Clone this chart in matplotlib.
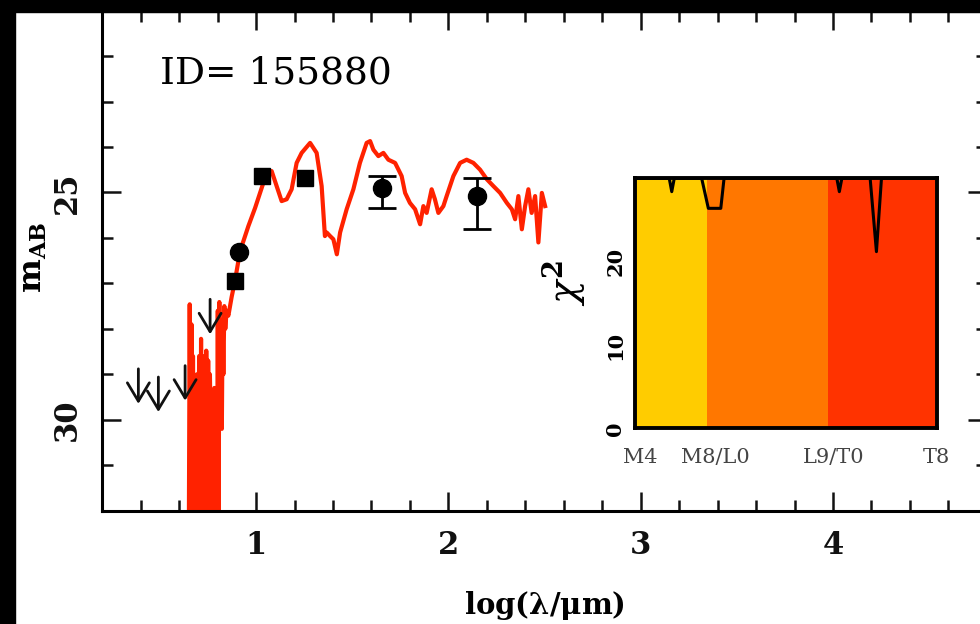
import numpy as np
import matplotlib
matplotlib.use('Agg')
from matplotlib import pyplot as plt
from matplotlib.patches import Rectangle

plt.rcParams['font.family'] = ['DejaVu Serif']
plt.rcParams['mathtext.fontset'] = 'dejavuserif'

# photometry: squares and circles (log lambda, mAB)
sq_x = [0.89, 1.03, 1.255]
sq_y = [26.95, 24.64, 24.68]
circ_x = [0.911]
circ_y = [26.32]
err_x = [1.653, 2.147]
err_y = [24.90, 25.08]
err_up = [0.27, 0.40]
err_dn = [0.44, 0.715]

# upper limits
lim_x = [0.388, 0.492, 0.631, 0.761]
lim_y = [28.88, 29.06, 28.81, 27.35]

# model spectrum
spec_x = [0.650, 0.655, 0.660, 0.664, 0.668, 0.672, 0.677, 0.682, 0.687, 0.692,
          0.698, 0.704, 0.709, 0.714, 0.718, 0.722, 0.727, 0.732, 0.737, 0.741,
          0.746, 0.751, 0.756, 0.760, 0.765, 0.770, 0.773, 0.778, 0.783, 0.788,
          0.792, 0.797, 0.801, 0.805, 0.809, 0.813, 0.818, 0.822, 0.826, 0.830,
          0.835, 0.840, 0.847, 0.856, 0.873, 0.89, 0.917, 0.96, 0.995, 1.055,
          1.081, 1.107, 1.133, 1.159, 1.185, 1.211, 1.237, 1.281, 1.315, 1.341,
          1.358, 1.367, 1.385, 1.402, 1.42, 1.437, 1.471, 1.506, 1.54, 1.575,
          1.593, 1.61, 1.636, 1.662, 1.688, 1.723, 1.757, 1.775, 1.8, 1.827,
          1.853, 1.87, 1.887, 1.913, 1.93, 1.948, 1.974, 1.991, 2.026, 2.061,
          2.095, 2.13, 2.165, 2.2, 2.234, 2.269, 2.304, 2.33, 2.347, 2.364,
          2.382, 2.399, 2.416, 2.433, 2.451, 2.468, 2.486, 2.503]
spec_y = [33, 27.46, 33, 27.9, 33, 28.6, 33, 29.1, 33, 29.0,
          33, 28.6, 33, 28.22, 33, 28.6, 33, 28.7, 33, 28.48,
          33, 28.7, 33, 29.0, 30.5, 33, 30.2, 33, 29.3, 33,
          30.0, 33, 27.6, 33, 27.41, 30.0, 28.0, 30.2, 27.8, 29.0,
          27.5, 28.0, 27.6, 27.71, 27.3, 26.95, 26.29, 25.74, 25.34, 24.57,
          24.53, 24.86, 25.19, 25.15, 24.93, 24.35, 24.13, 23.91, 24.13, 24.86,
          25.96, 25.88, 25.96, 26.03, 26.36, 25.88, 25.37, 24.93, 24.35, 23.91,
          23.87, 24.06, 24.2, 24.13, 24.28, 24.35, 24.64, 25.01, 25.23, 25.37,
          25.70, 25.3, 25.45, 24.93, 25.15, 25.45, 25.3, 25.08, 24.64, 24.35,
          24.28, 24.35, 24.5, 24.71, 24.86, 25.01, 25.23, 25.37, 25.59, 25.08,
          25.81, 25.3, 24.93, 25.45, 25.08, 26.1, 25.01, 25.3]

# inset: chi2 vs spectral type index (M4 = 0 ... T8 = 24)
type_edges = [0, 5.75, 15.33, 24]
type_colors = ['#ffcc00', '#ff7700', '#ff3300']
type_tick_pos = [0.4, 6.36, 15.77, 24]
type_tick_lab = ['M4', 'M8/L0', 'L9/T0', 'T8']
chi_x = [0, 2.72, 2.92, 3.12, 5.3, 5.83, 6.82, 7.08, 16.05, 16.25, 16.45, 18.7, 19.2, 19.6, 24]
chi_y = [30, 30, 28.4, 30, 30, 26.4, 26.4, 30, 30, 28.4, 30, 30, 21.2, 30, 30]

fig = plt.figure(figsize=(9.8, 6.24), dpi=100)
ax = fig.add_axes([0.1043, 0.1816, 0.9027, 0.8014])

ax.plot(spec_x, spec_y, color='#ff2200', lw=3.0, zorder=2, solid_joinstyle='round')
ax.errorbar(err_x, err_y, yerr=[err_up, err_dn], fmt='o', color='black',
            ms=13, elinewidth=2, capsize=10, capthick=2, zorder=4)
ax.plot(sq_x, sq_y, 's', color='black', ms=12, zorder=4)
ax.plot(circ_x, circ_y, 'o', color='black', ms=13, zorder=4)
for lx, ly in zip(lim_x, lim_y):
    ax.annotate('', xy=(lx, ly + 0.77), xytext=(lx, ly),
                arrowprops=dict(arrowstyle='->,head_length=0.55,head_width=0.33',
                                lw=2, color='#111111', mutation_scale=24,
                                shrinkA=0, shrinkB=0), zorder=5)

ax.set_xlim(0.2, 4.8)
ax.set_ylim(32, 21)
ax.set_xticks([1, 2, 3, 4])
ax.set_xticks(np.arange(0.2, 4.8, 0.2), minor=True)
ax.set_yticks([25, 30])
ax.set_yticks(np.arange(21, 33, 1), minor=True)
ax.tick_params(which='both', direction='in', top=True, right=True, width=1.8, colors='#111111')
ax.tick_params(which='major', length=14, labelsize=22, pad=14)
ax.tick_params(which='minor', length=8)
for lab in ax.get_yticklabels():
    lab.set_rotation(90)
    lab.set_va('center')
for lab in ax.get_xticklabels() + ax.get_yticklabels():
    lab.set_fontweight('bold')
for sp in ax.spines.values():
    sp.set_linewidth(2.2)

ax.text(0.0653, 0.8546, 'ID= 155880', transform=ax.transAxes, fontsize=27,
        va='baseline', ha='left')
fig.text(0.556, 0.030, r'log($\mathbf{\lambda}$/$\mathbf{\mu}$m)', fontsize=21,
         fontweight='bold', ha='center', va='center')
fig.text(0.034, 0.587, r'm$_{\mathbf{AB}}$', fontsize=23, fontweight='bold',
         rotation=90, ha='center', va='center')

# inset
ins = fig.add_axes([0.648, 0.3136, 0.3079, 0.4006])
for i in range(len(type_colors)):
    ins.axvspan(type_edges[i], type_edges[i + 1], color=type_colors[i], lw=0)
ins.plot(chi_x, chi_y, color='black', lw=2.2, clip_on=True)
ins.set_xlim(0, 24)
ins.set_ylim(0, 30)
ins.set_xticks(type_tick_pos)
ins.set_xticklabels(type_tick_lab, fontsize=15, color='#444444')
ins.set_yticks([0, 10, 20])
ins.tick_params(axis='both', length=0)
ins.tick_params(axis='x', pad=14)
ins.tick_params(axis='y', pad=7, labelsize=15)
for lab in ins.get_yticklabels():
    lab.set_rotation(90)
    lab.set_va('center')
    lab.set_fontweight('bold')
for sp in ins.spines.values():
    sp.set_linewidth(2.8)
fig.text(0.5745, 0.5465, r'$\chi^\mathbf{2}$', fontsize=28, rotation=90, ha='center', va='center')

# black frame remnants at the top and left edges
fig.patches.append(Rectangle((0, 1 - 12 / 624), 1, 12 / 624, transform=fig.transFigure,
                             color='black', zorder=10))
fig.patches.append(Rectangle((0, 0), 15 / 980, 1, transform=fig.transFigure,
                             color='black', zorder=10))

fig.savefig('out.png', dpi=100, facecolor='white')
